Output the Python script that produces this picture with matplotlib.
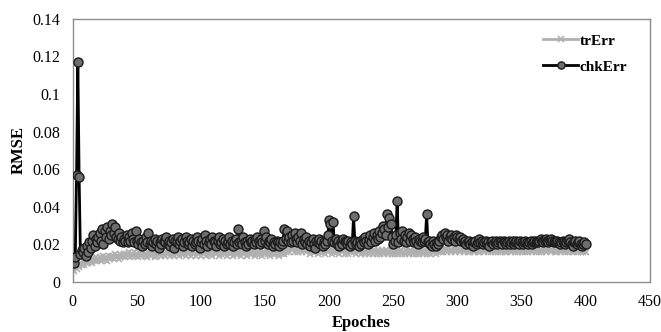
import numpy as np
import matplotlib.pyplot as plt

# Errores (x 1e-3), epocas 1..400
chk_err = [
    10, 13, 57, 117, 56, 15, 17, 16, 18, 14, 19, 16, 21, 18, 22, 25, 19, 23, 21, 24,
    26, 22, 28, 20, 27, 24, 29, 23, 27, 25, 31, 26, 29, 24, 23, 26, 22, 24, 21, 23,
    22, 25, 21, 24, 22, 26, 23, 21, 27, 22, 20, 23, 21, 19, 22, 20, 24, 21, 26, 20,
    22, 19, 21, 23, 20, 22, 18, 21, 20, 23, 22, 21, 24, 20, 22, 19, 21, 23, 18, 22,
    21, 24, 20, 22, 23, 19, 21, 24, 22, 20, 21, 23, 19, 22, 20, 21, 24, 22, 18, 21,
    23, 20, 25, 22, 19, 21, 23, 20, 24, 22, 21, 19, 22, 24, 20, 21, 23, 19, 22, 20,
    21, 24, 20, 22, 19, 21, 23, 20, 28, 21, 22, 20, 24, 21, 19, 22, 20, 23, 21, 22,
    20, 23, 21, 24, 22, 20, 23, 21, 27, 22, 24, 20, 22, 21, 23, 19, 21, 20, 22, 21,
    19, 21, 20, 22, 28, 23, 27, 22, 24, 21, 25, 22, 26, 23, 21, 24, 22, 26, 20, 23,
    21, 24, 20, 22, 19, 21, 23, 20, 18, 22, 21, 23, 20, 22, 19, 21, 20, 22, 25, 33,
    31, 22, 32, 21, 23, 20, 22, 19, 21, 20, 23, 22, 21, 20, 22, 19, 21, 20, 35, 22,
    20, 21, 19, 22, 20, 23, 21, 24, 22, 20, 23, 25, 21, 24, 26, 22, 25, 23, 27, 24,
    26, 30, 28, 25, 36, 29, 34, 31, 24, 20, 22, 25, 43, 21, 26, 23, 27, 22, 25, 21,
    24, 26, 22, 25, 23, 21, 24, 22, 20, 23, 22, 21, 24, 22, 23, 36, 21, 22, 20, 19,
    22, 20, 19, 21, 20, 22, 24, 25, 23, 26, 24, 25, 22, 24, 25, 23, 24, 22, 25, 24,
    23, 24, 22, 23, 21, 22, 20, 21, 22, 20, 21, 19, 21, 22, 20, 21, 23, 21, 22, 20,
    21, 22, 20, 21, 19, 21, 22, 20, 21, 22, 20, 21, 22, 21, 20, 22, 21, 20, 21, 22,
    20, 21, 22, 20, 21, 22, 21, 20, 22, 21, 20, 21, 22, 21, 20, 21, 22, 20, 21, 22,
    21, 22, 21, 22, 23, 22, 21, 22, 23, 22, 21, 22, 23, 22, 21, 22, 21, 22, 21, 20,
    21, 22, 21, 20, 21, 22, 23, 21, 20, 19, 21, 22, 20, 21, 22, 20, 19, 20, 21, 20,
]

tr_err = [
    6, 8, 7, 9, 8, 10, 9, 11, 9, 10, 12, 10, 11, 12, 10, 12, 11, 13, 11, 12,
    13, 11, 12, 14, 12, 13, 11, 14, 12, 13, 14, 12, 15, 13, 14, 12, 15, 13, 14, 15,
    13, 15, 14, 16, 13, 15, 14, 16, 14, 15, 13, 16, 14, 15, 16, 14, 15, 13, 16, 15,
    14, 16, 15, 13, 16, 14, 15, 17, 14, 16, 15, 14, 16, 15, 17, 14, 16, 15, 14, 16,
    15, 17, 14, 16, 15, 17, 15, 14, 16, 15, 17, 14, 16, 15, 16, 14, 17, 15, 16, 14,
    16, 15, 17, 14, 16, 15, 17, 15, 14, 16, 17, 15, 16, 14, 16, 15, 17, 15, 16, 14,
    16, 17, 15, 16, 14, 17, 15, 16, 15, 17, 14, 16, 15, 17, 16, 14, 16, 15, 17, 15,
    16, 14, 17, 15, 16, 15, 17, 14, 16, 15, 17, 15, 16, 14, 16, 15, 17, 15, 16, 15,
    14, 16, 15, 17, 15, 16, 18, 17, 16, 18, 17, 19, 16, 18, 17, 16, 18, 17, 16, 18,
    17, 16, 18, 17, 15, 17, 16, 18, 16, 17, 15, 17, 16, 18, 16, 17, 15, 17, 16, 18,
    17, 15, 17, 16, 18, 16, 17, 15, 17, 16, 17, 15, 16, 17, 15, 17, 16, 18, 16, 17,
    15, 17, 16, 17, 15, 16, 17, 15, 16, 17, 15, 17, 16, 15, 17, 16, 15, 17, 16, 15,
    17, 16, 15, 17, 16, 15, 16, 17, 15, 16, 15, 17, 16, 15, 16, 17, 15, 16, 15, 17,
    16, 15, 17, 16, 15, 16, 17, 15, 16, 15, 17, 16, 15, 17, 16, 15, 16, 17, 15, 16,
    17, 16, 15, 17, 16, 18, 16, 17, 16, 18, 17, 16, 18, 17, 16, 17, 18, 16, 17, 18,
    17, 16, 18, 17, 16, 17, 18, 16, 17, 16, 18, 17, 16, 17, 18, 16, 17, 16, 17, 18,
    16, 17, 18, 16, 17, 16, 18, 17, 16, 17, 18, 16, 17, 16, 18, 17, 16, 17, 16, 18,
    17, 16, 17, 18, 16, 17, 16, 18, 17, 16, 17, 18, 16, 17, 16, 18, 17, 16, 17, 18,
    16, 17, 18, 16, 17, 16, 18, 17, 16, 17, 18, 17, 16, 17, 18, 16, 17, 16, 18, 17,
    16, 17, 18, 16, 17, 16, 18, 17, 16, 17, 16, 18, 17, 16, 17, 16, 17, 16, 17, 16,
]

epochs = np.arange(1, len(chk_err) + 1)
chk = np.array(chk_err) / 1000
tr = np.array(tr_err) / 1000

plt.rcParams['font.family'] = ['Liberation Serif', 'DejaVu Serif']

fig = plt.figure(figsize=(6.61, 3.32), dpi=100)
ax = fig.add_axes([0.110, 0.151, 0.873, 0.792])

ax.plot(epochs, tr, color='#b0b0b0', lw=2.0, marker='x', ms=5, mew=1.2,
        label='trErr', zorder=2)
ax.plot(epochs, chk, color='black', lw=2.0, marker='o', ms=6.5,
        mfc='#6e6e6e', mec='#1a1a1a', mew=1.0, label='chkErr', zorder=3)

ax.set_xlim(0, 450)
ax.set_ylim(0, 0.14)
ax.set_xticks(np.arange(0, 451, 50))
ax.set_yticks(np.arange(0, 0.141, 0.02))
ax.set_yticklabels(['0', '0.02', '0.04', '0.06', '0.08', '0.1', '0.12', '0.14'])
ax.tick_params(length=0, labelsize=11.5, pad=9)
for s in ax.spines.values():
    s.set_color('#8c8c8c')
    s.set_linewidth(1.0)

ax.set_xlabel('Epoches', fontsize=12, fontweight='bold', labelpad=3)
ax.set_ylabel('RMSE', fontsize=12, fontweight='bold', labelpad=4)

leg = ax.legend(loc='upper right', bbox_to_anchor=(0.985, 0.995), frameon=False,
                prop={'weight': 'bold', 'size': 11}, handlelength=2.3,
                handletextpad=0.1, labelspacing=0.8, markerscale=0.8)

fig.savefig('out.png', dpi=100)
